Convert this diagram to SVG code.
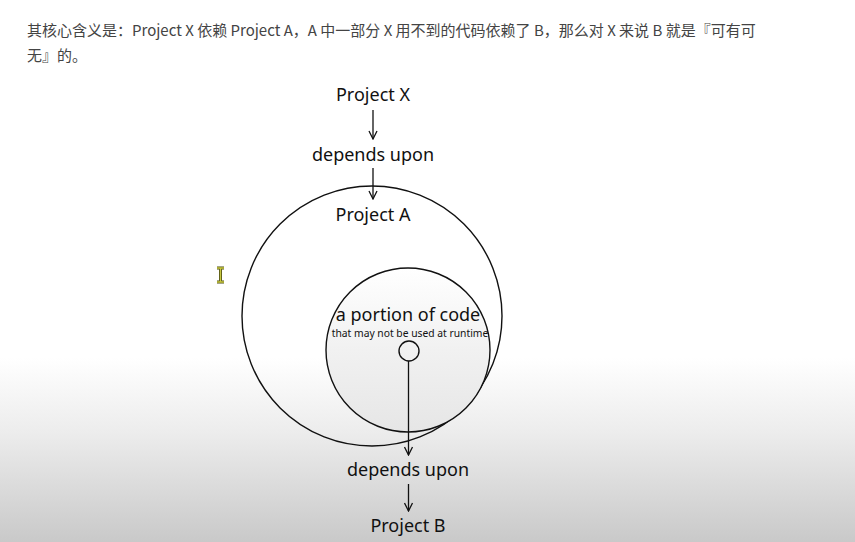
<svg xmlns="http://www.w3.org/2000/svg" width="855" height="542" viewBox="0 0 855 542">
<defs>
<linearGradient id="bg" x1="0" y1="0" x2="0" y2="542" gradientUnits="userSpaceOnUse">
<stop offset="0" stop-color="#ffffff"/>
<stop offset="0.66" stop-color="#ffffff"/>
<stop offset="0.8" stop-color="#ececec"/>
<stop offset="1" stop-color="#c9c9c9"/>
</linearGradient>
<linearGradient id="inner" x1="0" y1="0" x2="0" y2="1">
<stop offset="0" stop-color="#ffffff"/>
<stop offset="0.5" stop-color="#f1f1f1"/>
<stop offset="1" stop-color="#e6e6e6"/>
</linearGradient>
<marker id="arr" viewBox="0 0 10 10" refX="9" refY="5" markerWidth="10" markerHeight="10" markerUnits="userSpaceOnUse" orient="auto">
<path d="M1,1 L9,5 L1,9" fill="none" stroke="#111" stroke-width="1.3"/>
</marker>
<style>
.lbl{font-family:"Noto Sans","Open Sans","Liberation Sans",sans-serif;fill:#111;text-anchor:middle}
.big{font-size:18px}
.small{font-size:10.3px}
.cn{font-family:"Noto Sans CJK SC","Noto Sans",sans-serif;font-size:15px;fill:#444}
.ln{stroke:#111;stroke-width:1.3;fill:none}
.circ{stroke:#111;stroke-width:1.4}
</style>
</defs>
<rect x="0" y="0" width="855" height="542" fill="url(#bg)"/>
<text class="cn" x="27" y="36">其核心含义是：Project X 依赖 Project A，A 中一部分 X 用不到的代码依赖了 B，那么对 X 来说 B 就是『可有可</text>
<text class="cn" x="27" y="61">无』的。</text>

<g id="projectA">
<circle class="circ" cx="372" cy="316" r="130" fill="none"/>
<text class="lbl big" x="373" y="221">Project A</text>
</g>
<g id="portion">
<circle class="circ" cx="408" cy="350" r="82" fill="url(#inner)"/>
<text class="lbl big" x="408" y="321">a portion of code</text>
<text class="lbl small" x="410" y="337">that may not be used at runtime</text>
<circle class="circ" cx="409" cy="351" r="10" fill="none"/>
</g>
<g id="projectX"><text class="lbl big" x="373" y="101">Project X</text></g>
<g id="depends1"><text class="lbl big" x="373" y="161">depends upon</text></g>
<g id="depends2"><text class="lbl big" x="408" y="476">depends upon</text></g>
<g id="projectB"><text class="lbl big" x="408" y="532">Project B</text></g>

<g id="connectors">
<line class="ln" x1="373" y1="110" x2="373" y2="139" marker-end="url(#arr)"/>
<line class="ln" x1="373" y1="168" x2="373" y2="199" marker-end="url(#arr)"/>
<line class="ln" x1="408.5" y1="361" x2="408.5" y2="455" marker-end="url(#arr)"/>
<line class="ln" x1="408.5" y1="484" x2="408.5" y2="511" marker-end="url(#arr)"/>
</g>

<g id="cursor">
<path d="M217,268 h7 M217,282 h7 M220.5,268 v14" stroke="#4a4a10" stroke-width="3" fill="none"/>
<path d="M217,268 h7 M217,282 h7 M220.5,268 v14" stroke="#c8c840" stroke-width="1.4" fill="none"/>
</g>
</svg>
